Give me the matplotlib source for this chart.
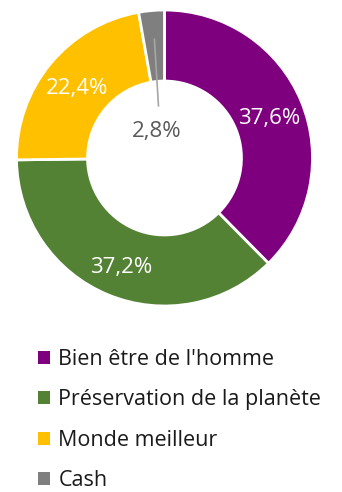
import matplotlib
matplotlib.use("Agg")
import matplotlib.pyplot as plt
from matplotlib.patches import Patch
import numpy as np

categories = ["Bien être de l'homme", "Préservation de la planète", "Monde meilleur", "Cash"]
values = [37.6, 37.2, 22.4, 2.8]
labels = ["37,6%", "37,2%", "22,4%", "2,8%"]
colors = ["#7F007F", "#548235", "#FFC000", "#7F7F7F"]

plt.rcParams['font.family'] = ['Open Sans', 'DejaVu Sans']

W, H = 342, 492
fig = plt.figure(figsize=(W / 100, H / 100), dpi=100)

# donut axes: centre at (164.5, 158) px, outer radius ~148 px
cx, cy, R = 164.5, 158.0, 148.0
half = 152.0
ax = fig.add_axes([(cx - half) / W, (H - cy - half) / H, 2 * half / W, 2 * half / H])

width = 0.48
wedges, _ = ax.pie(values, colors=colors, startangle=90, counterclock=False,
                   radius=1.0, wedgeprops=dict(width=width, edgecolor='white', linewidth=2))
ax.set_xlim(-half / R, half / R)
ax.set_ylim(-half / R, half / R)
ax.set_aspect('equal')
ax.axis('off')

mid_r = 1.0 - width / 2
cum = 0.0
for i, v in enumerate(values):
    ang = np.deg2rad(90 - (cum + v / 2) * 3.6)
    cum += v
    if i < 3:
        ax.text(mid_r * np.cos(ang) * 1.01, mid_r * np.sin(ang) * 1.02 - 0.025, labels[i],
                ha='center', va='center', color='white', fontsize=16)
    else:
        # small slice: label inside the hole with a leader line
        x0, y0 = mid_r * np.cos(ang) * 1.02, mid_r * np.sin(ang) * 1.02 + 0.03
        lx, ly = (157 - cx) / R, (cy - 131) / R
        ax.plot([x0, lx + 0.01], [y0, ly + 0.17], color='#A6A6A6', lw=1.2)
        ax.text(lx, ly, labels[i], ha='center', va='center', color='#595959', fontsize=16)

handles = [Patch(facecolor=c, edgecolor='none') for c in colors]
leg = fig.legend(handles, categories, loc='upper left',
                 bbox_to_anchor=(38 / W, 1 - 349 / H), frameon=False,
                 fontsize=15.5, handlelength=0.55, handleheight=0.55, handletextpad=0.4,
                 labelspacing=0.9, borderaxespad=0, borderpad=0)
for t in leg.get_texts():
    t.set_color('#1A1A1A')

fig.savefig("out.png", dpi=100)
